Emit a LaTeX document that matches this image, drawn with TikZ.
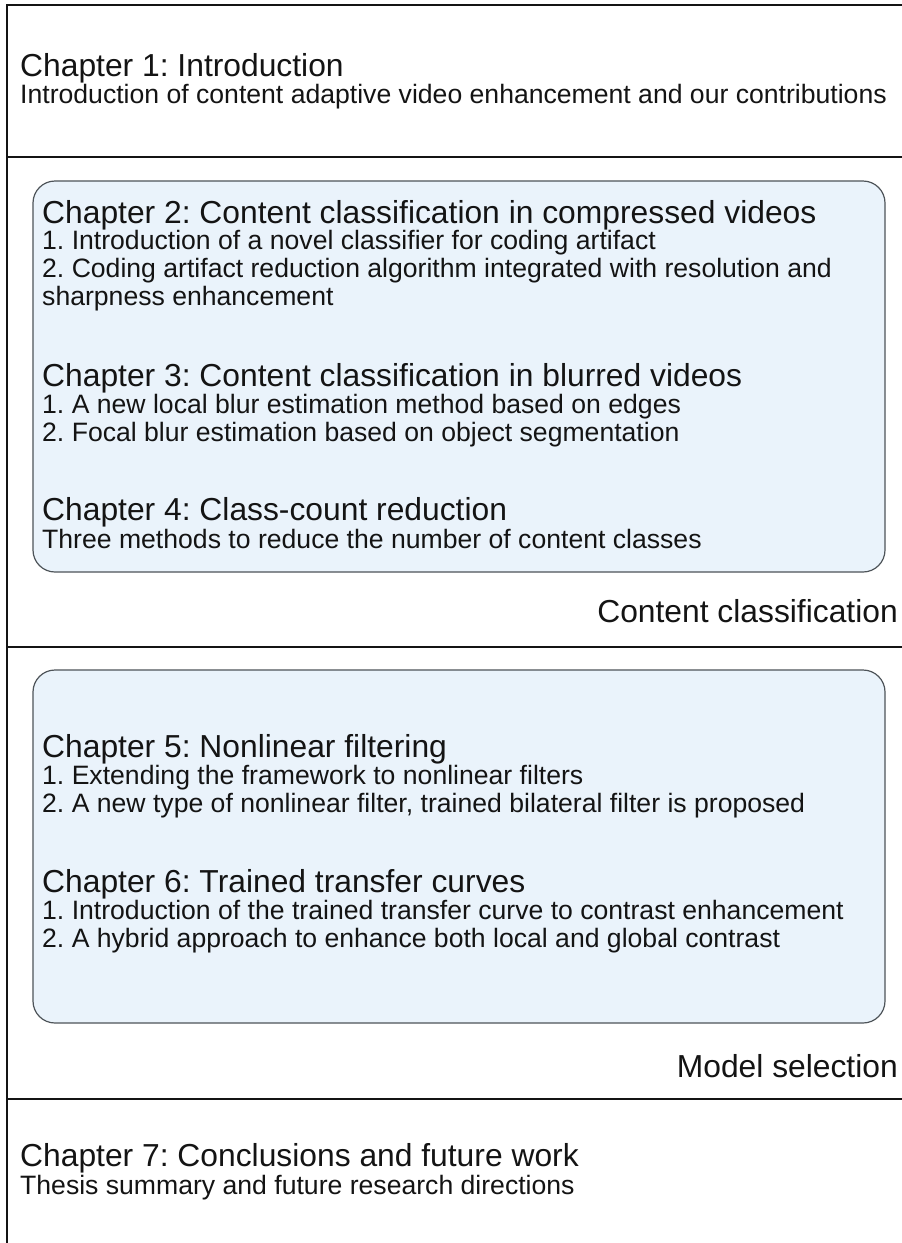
\documentclass[tikz,border=0pt]{standalone}
\usepackage{fontspec}
\setmainfont{Liberation Sans}
\definecolor{panelfill}{HTML}{EAF3FB}
\definecolor{paneledge}{HTML}{4E5459}
\definecolor{inktext}{HTML}{141414}
\begin{document}
\frenchspacing
\begin{tikzpicture}[x=1pt,y=-1pt,
  frameline/.style={draw=inktext, line width=2pt},
  panel/.style={draw=paneledge, fill=panelfill, line width=1.2pt, rounded corners=22pt},
  head/.style={anchor=base west, inner sep=0pt, text=inktext, font=\fontsize{31.8}{36}\selectfont},
  item/.style={anchor=base west, inner sep=0pt, text=inktext, font=\fontsize{26.6}{30}\selectfont},
  tag/.style={anchor=base east, inner sep=0pt, text=inktext, font=\fontsize{31.8}{36}\selectfont}]
\useasboundingbox[fill=white] (0,0) rectangle (902,1243);

% outer frame and section dividers
\draw[frameline] (7,1243) -- (7,5) -- (902,5);
\draw[frameline] (7,157) -- (902,157);
\draw[frameline] (7,647) -- (902,647);
\draw[frameline] (7,1099) -- (902,1099);

% chapter 1
\node[head] (c1h) at (20,76) {Chapter 1: Introduction};
\node[item] (c1a) at (20,103) {Introduction of content adaptive video enhancement and our contributions};

% content classification panel
\draw[panel] (33,181) rectangle (885,572);
\node[head] (c2h) at (42,223) {Chapter 2: Content classification in compressed videos};
\node[item] (c2a) at (42,249) {1. Introduction of a novel classifier for coding artifact};
\node[item] (c2b) at (42,277) {2. Coding artifact reduction algorithm integrated with resolution and};
\node[item] (c2c) at (42,305) {sharpness enhancement};

\node[head] (c3h) at (42,386) {Chapter 3: Content classification in blurred videos};
\node[item] (c3a) at (42,413) {1. A new local blur estimation method based on edges};
\node[item] (c3b) at (42,441) {2. Focal blur estimation based on object segmentation};

\node[head] (c4h) at (42,520) {Chapter 4: Class-count reduction};
\node[item] (c4a) at (42,548) {Three methods to reduce the number of content classes};

\node[tag] (cc) at (898,622) {Content classification};

% model selection panel
\draw[panel] (33,670) rectangle (885,1023);
\node[head] (c5h) at (42,757) {Chapter 5: Nonlinear filtering};
\node[item] (c5a) at (42,784) {1. Extending the framework to nonlinear filters};
\node[item] (c5b) at (42,812) {2. A new type of nonlinear filter, trained bilateral filter is proposed};

\node[head] (c6h) at (42,892) {Chapter 6: Trained transfer curves};
\node[item] (c6a) at (42,919) {1. Introduction of the trained transfer curve to contrast enhancement};
\node[item] (c6b) at (42,947) {2. A hybrid approach to enhance both local and global contrast};

\node[tag] (ms) at (898,1077) {Model selection};

% chapter 7
\node[head] (c7h) at (20,1166) {Chapter 7: Conclusions and future work};
\node[item] (c7a) at (20,1194) {Thesis summary and future research directions};
\end{tikzpicture}
\end{document}
